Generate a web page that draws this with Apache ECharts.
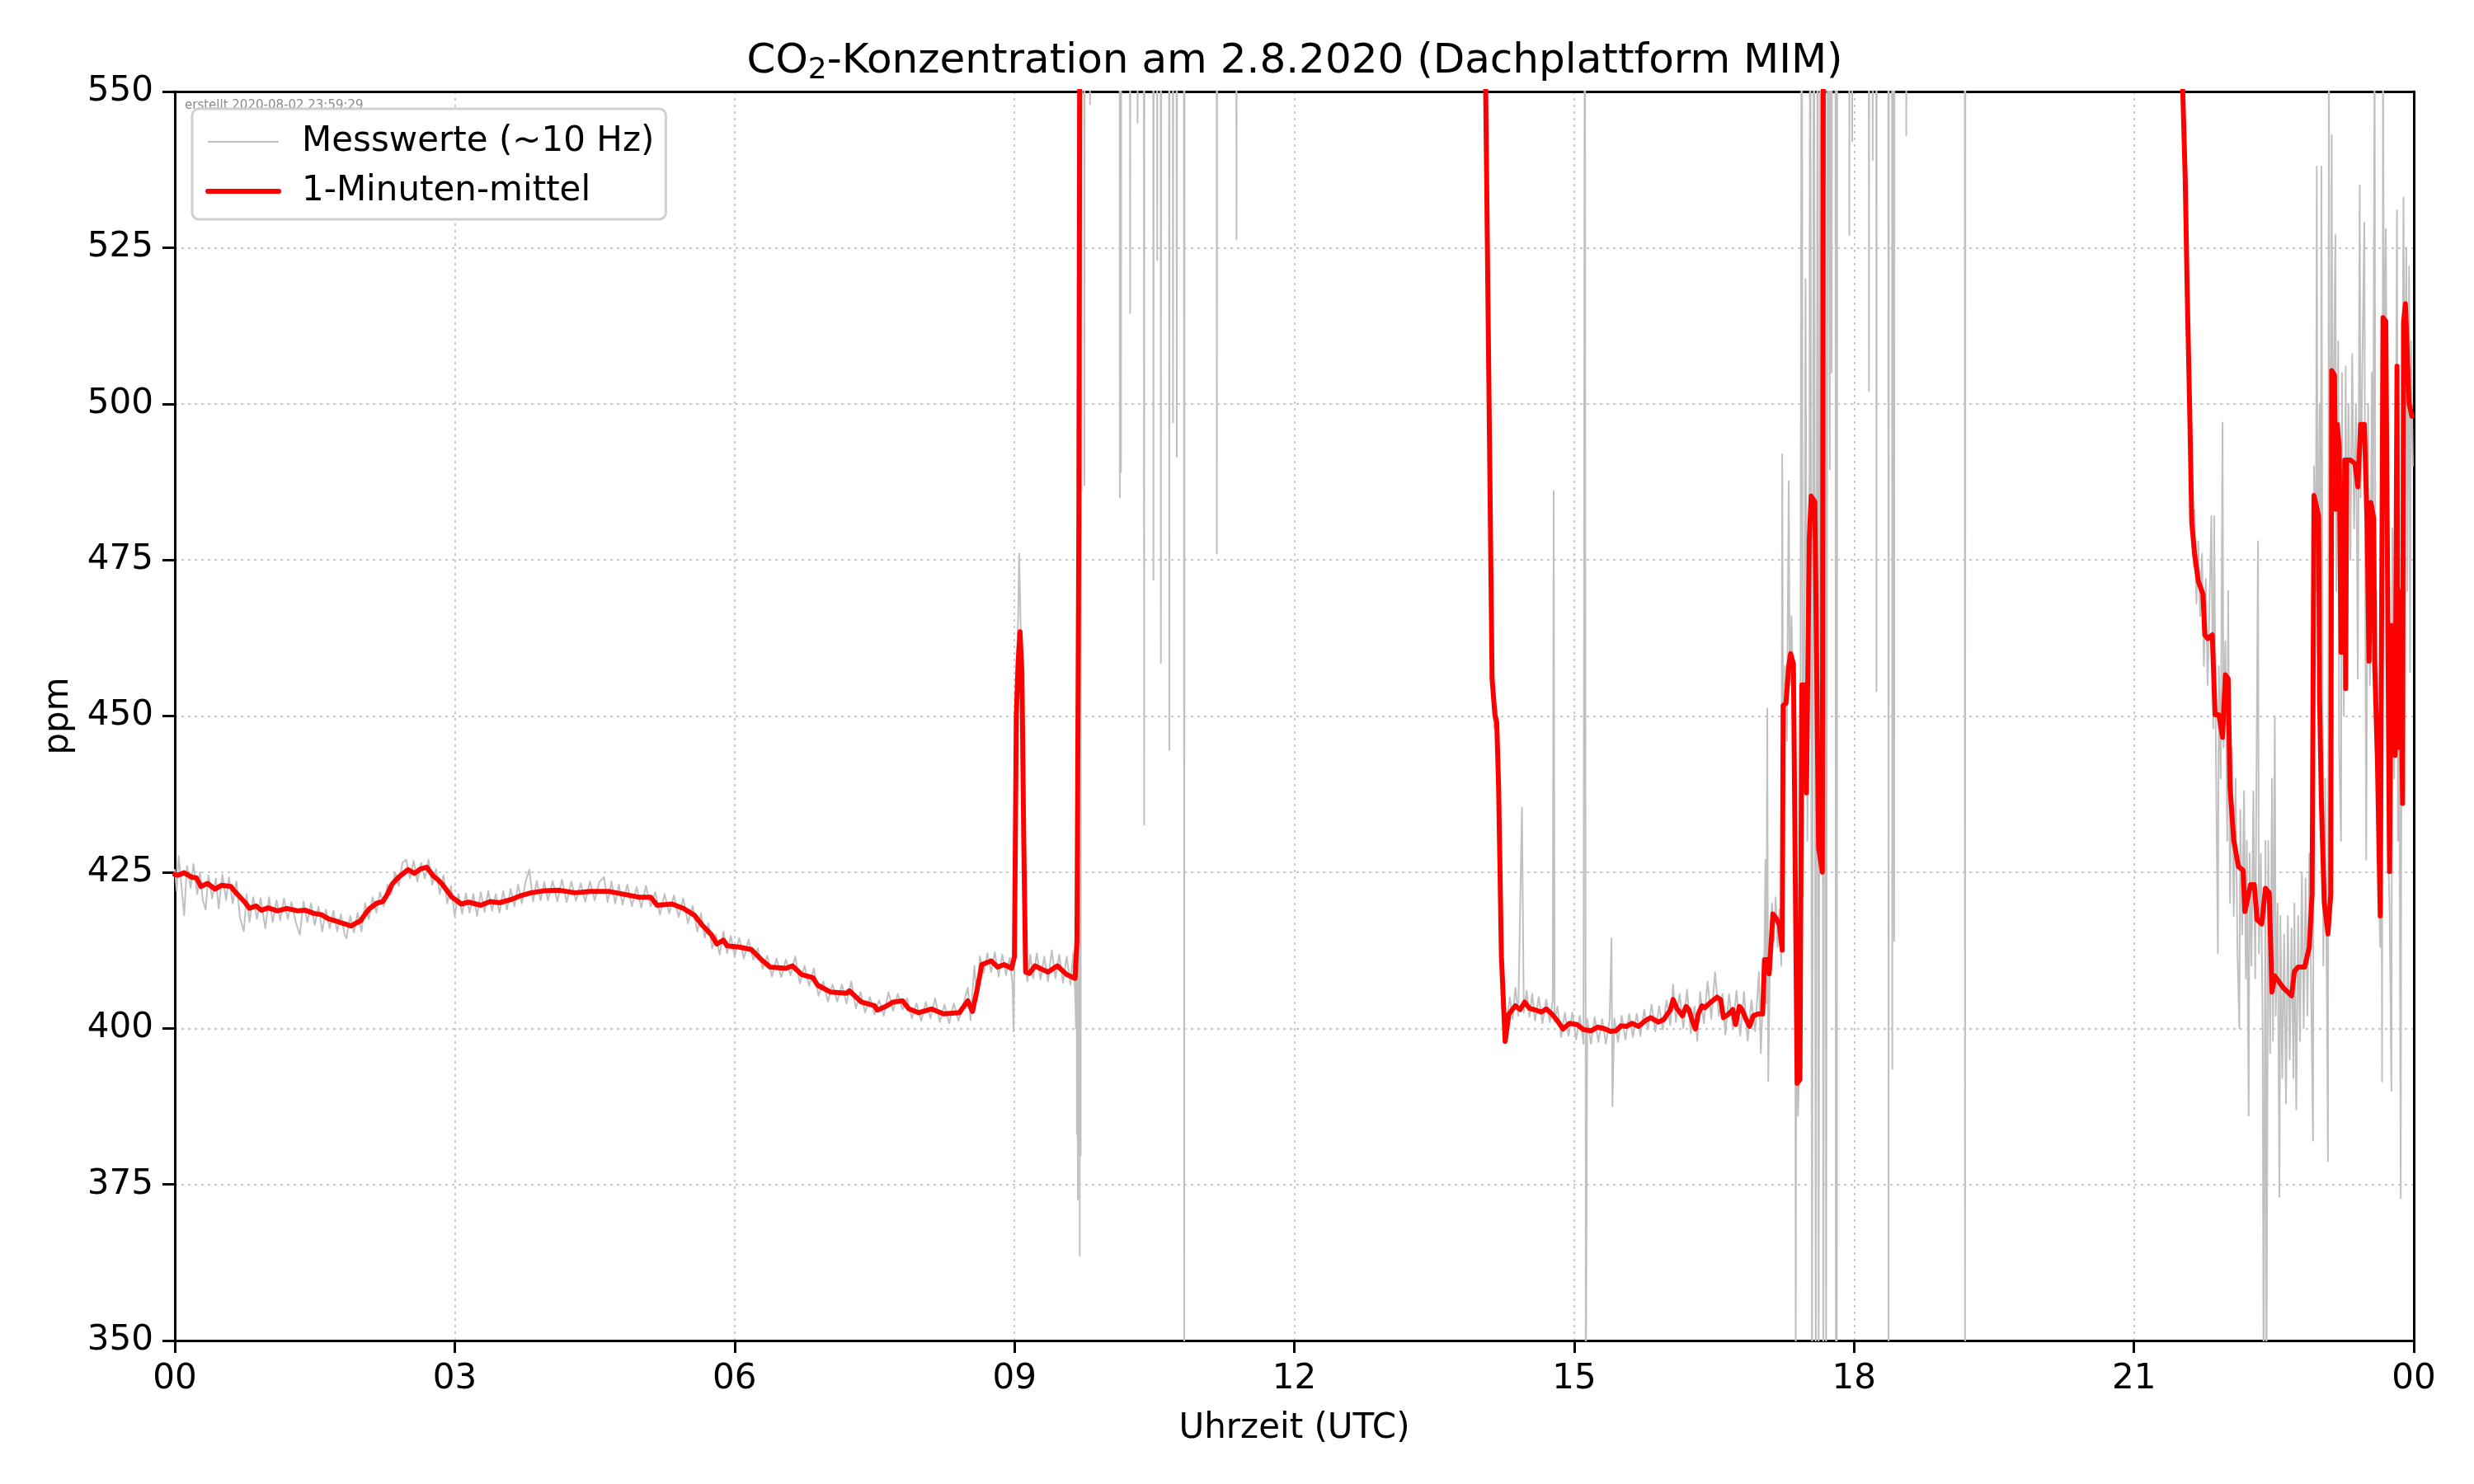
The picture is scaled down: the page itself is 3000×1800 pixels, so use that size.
<!DOCTYPE html>
<html>
<head>
<meta charset="utf-8">
<script src="https://cdn.jsdelivr.net/npm/echarts@6/dist/echarts.min.js"></script>
<style>html,body{margin:0;padding:0;background:#fff}#c{width:3000px;height:1800px}</style>
</head>
<body>
<div id="c"></div>
<script>
// ---- data (hour of day, ppm) ----
const titleMain = 'CO';
const titleSub = '2';
const titleRest = '-Konzentration am 2.8.2020 (Dachplattform MIM)';
const seriesNames = ['Messwerte (~10 Hz)', '1-Minuten-mittel'];
const stampText = 'erstellt 2020-08-02 23:59:29';
const xTickLabels = ['00','03','06','09','12','15','18','21','00'];

// 1-minute means (red)
const meanPoints = [
[0.00,424.6],[0.03,424.5],[0.10,424.9],[0.18,424.2],[0.23,424.1],[0.28,422.7],[0.35,423.2],[0.43,422.3],[0.50,422.9],[0.60,422.7],
[0.65,421.8],[0.70,421.0],[0.75,420.2],[0.80,419.2],[0.87,419.6],[0.93,418.9],[1.00,419.3],[1.10,418.8],[1.20,419.2],[1.32,418.8],
[1.40,418.9],[1.49,418.4],[1.57,418.2],[1.65,417.5],[1.72,417.2],[1.80,416.8],[1.89,416.4],[1.95,416.9],[1.99,417.2],[2.05,418.5],
[2.09,419.2],[2.16,420.0],[2.23,420.3],[2.28,421.5],[2.33,423.1],[2.40,424.2],[2.50,425.4],[2.57,424.8],[2.63,425.5],[2.70,425.8],
[2.77,424.4],[2.82,423.8],[2.87,423.0],[2.92,422.0],[2.97,421.0],[3.07,419.9],[3.15,420.2],[3.28,419.7],[3.38,420.3],[3.48,420.1],
[3.60,420.6],[3.70,421.2],[3.82,421.7],[3.95,422.0],[4.12,422.1],[4.29,421.7],[4.45,421.9],[4.66,421.9],[4.80,421.5],[4.97,421.0],
[5.10,421.0],[5.17,419.7],[5.33,419.9],[5.45,419.2],[5.57,418.1],[5.66,416.4],[5.75,415.0],[5.81,413.5],[5.88,414.1],[5.92,413.2],
[6.05,413.0],[6.18,412.6],[6.28,411.1],[6.38,409.8],[6.55,409.6],[6.62,410.0],[6.72,408.6],[6.84,408.1],[6.89,406.9],[7.03,405.8],
[7.20,405.6],[7.23,406.0],[7.36,404.2],[7.50,403.6],[7.53,402.9],[7.62,403.5],[7.70,404.2],[7.80,404.4],[7.87,403.1],[7.97,402.5],
[8.11,403.1],[8.24,402.3],[8.41,402.5],[8.50,404.4],[8.55,402.7],[8.60,406.2],[8.65,410.2],[8.75,410.8],[8.82,409.8],[8.89,410.2],
[8.97,409.6],[9.00,411.5],[9.02,450.0],[9.04,458.8],[9.06,463.5],[9.08,457.0],[9.10,430.0],[9.12,409.0],[9.16,408.8],[9.22,410.0],
[9.30,409.4],[9.36,409.0],[9.46,410.0],[9.56,408.6],[9.65,408.0],[9.67,414.0],[9.69,480.0],[9.70,560.0],[9.80,650.0],[12.00,700.0],
[14.00,620.0],[14.05,552.0],[14.12,456.0],[14.15,450.2],[14.17,449.0],[14.19,438.6],[14.22,411.5],[14.26,397.9],[14.30,402.3],[14.37,403.6],
[14.42,403.0],[14.47,404.2],[14.52,403.2],[14.57,403.0],[14.65,402.6],[14.70,403.1],[14.76,402.3],[14.82,401.2],[14.88,399.9],[14.95,400.8],
[15.03,400.6],[15.10,399.8],[15.18,399.6],[15.25,400.2],[15.33,399.9],[15.39,399.5],[15.45,399.6],[15.50,400.4],[15.56,400.3],[15.62,400.8],
[15.69,400.3],[15.76,401.2],[15.82,401.7],[15.90,401.0],[15.96,401.4],[16.00,402.3],[16.03,402.9],[16.06,404.6],[16.10,403.2],[16.16,402.0],
[16.20,403.5],[16.23,403.0],[16.27,401.0],[16.30,399.9],[16.33,402.3],[16.37,403.6],[16.40,403.3],[16.45,404.0],[16.50,404.6],[16.53,405.0],
[16.57,404.6],[16.60,401.7],[16.65,402.2],[16.70,403.0],[16.73,400.6],[16.77,403.5],[16.80,403.0],[16.84,401.5],[16.88,400.3],[16.92,402.0],
[16.97,402.3],[17.02,402.3],[17.04,411.0],[17.07,411.0],[17.09,408.7],[17.13,418.3],[17.17,417.5],[17.20,416.5],[17.23,412.5],[17.24,451.7],
[17.27,452.0],[17.30,458.0],[17.32,460.0],[17.35,458.3],[17.39,391.2],[17.42,391.8],[17.44,455.0],[17.47,455.0],[17.49,437.7],[17.52,478.3],
[17.54,485.2],[17.58,484.3],[17.62,428.9],[17.66,425.0],[17.67,560.0],[17.70,650.0],[19.50,700.0],[21.45,620.0],[21.52,552.0],[21.55,536.0],
[21.57,518.8],[21.60,497.4],[21.62,481.0],[21.65,476.0],[21.69,471.6],[21.74,469.5],[21.76,463.0],[21.79,462.4],[21.84,463.0],[21.87,450.2],
[21.91,450.2],[21.95,446.6],[21.98,456.6],[22.01,456.0],[22.03,438.7],[22.07,430.1],[22.12,425.9],[22.17,425.3],[22.19,418.7],[22.25,423.0],
[22.29,423.0],[22.32,417.4],[22.37,416.7],[22.41,422.4],[22.45,421.7],[22.48,405.8],[22.51,408.4],[22.60,406.5],[22.69,405.2],[22.72,409.1],
[22.76,409.8],[22.83,409.8],[22.88,413.0],[22.91,421.5],[22.93,485.3],[22.98,482.0],[22.99,453.0],[23.01,435.9],[23.04,420.1],[23.08,415.1],
[23.11,421.5],[23.12,505.3],[23.15,504.6],[23.16,483.1],[23.18,496.7],[23.20,493.1],[23.22,460.2],[23.24,460.2],[23.26,491.0],[23.27,454.4],
[23.28,491.0],[23.32,491.0],[23.37,490.4],[23.40,486.7],[23.43,496.7],[23.47,496.7],[23.50,480.2],[23.52,458.8],[23.54,484.2],[23.57,481.6],
[23.58,458.8],[23.61,443.0],[23.64,418.0],[23.67,513.8],[23.70,513.2],[23.74,425.1],[23.76,464.5],[23.78,453.9],[23.80,443.7],[23.82,506.0],
[23.83,445.0],[23.85,470.0],[23.88,436.0],[23.89,513.0],[23.91,516.0],[23.95,500.0],[23.98,498.0]
];

const rawPoints = [
[0.00,425.5],[0.02,422.0],[0.04,427.6],[0.07,423.0],[0.10,418.1],[0.13,426.0],[0.17,422.5],[0.20,426.3],[0.24,421.5],[0.27,425.0],
[0.30,420.5],[0.33,419.0],[0.36,424.5],[0.40,420.8],[0.44,424.0],[0.47,419.2],[0.51,424.6],[0.55,420.5],[0.58,424.2],[0.62,420.0],
[0.66,423.5],[0.70,417.6],[0.74,415.5],[0.77,421.5],[0.80,417.0],[0.84,421.0],[0.88,417.5],[0.92,420.8],[0.97,416.0],[1.01,421.0],
[1.05,417.0],[1.09,420.5],[1.13,417.3],[1.17,420.8],[1.21,417.5],[1.25,420.2],[1.30,416.8],[1.34,415.0],[1.38,420.3],[1.42,417.0],
[1.46,420.0],[1.50,416.5],[1.54,419.5],[1.58,415.5],[1.62,419.0],[1.66,416.0],[1.70,418.8],[1.74,415.5],[1.78,418.3],[1.82,415.0],
[1.84,414.4],[1.88,418.0],[1.92,415.3],[1.96,418.5],[2.00,415.5],[2.04,420.0],[2.08,417.5],[2.12,421.0],[2.16,418.5],[2.20,421.8],
[2.24,419.5],[2.28,423.0],[2.32,421.5],[2.36,425.0],[2.40,422.8],[2.44,426.5],[2.48,427.0],[2.52,424.0],[2.56,426.8],[2.60,423.5],
[2.64,426.5],[2.68,424.0],[2.72,427.0],[2.76,423.0],[2.80,425.5],[2.84,421.5],[2.88,424.5],[2.92,420.0],[2.96,422.8],[3.00,418.0],
[3.04,421.5],[3.08,418.3],[3.12,421.6],[3.16,418.5],[3.20,421.5],[3.24,418.0],[3.28,421.8],[3.32,418.6],[3.36,422.0],[3.40,418.8],
[3.44,421.5],[3.48,418.5],[3.52,422.0],[3.56,419.0],[3.60,422.3],[3.64,419.5],[3.68,423.0],[3.72,420.0],[3.76,423.5],[3.80,425.4],
[3.84,420.3],[3.88,423.6],[3.92,420.5],[3.96,423.4],[4.00,420.5],[4.05,423.6],[4.10,420.3],[4.15,423.8],[4.20,420.2],[4.25,423.5],
[4.30,420.4],[4.35,423.2],[4.40,420.3],[4.45,423.5],[4.50,420.5],[4.55,423.4],[4.60,424.2],[4.64,420.2],[4.68,423.5],[4.72,420.0],
[4.76,423.0],[4.80,419.8],[4.85,423.0],[4.90,419.5],[4.95,422.6],[5.00,419.3],[5.05,422.8],[5.10,419.5],[5.15,421.8],[5.20,418.2],
[5.25,421.5],[5.30,418.4],[5.35,421.3],[5.40,417.8],[5.45,420.8],[5.50,416.8],[5.55,419.6],[5.60,415.5],[5.64,418.4],[5.68,414.5],
[5.72,416.8],[5.76,412.8],[5.80,415.0],[5.84,411.8],[5.88,415.5],[5.92,412.0],[5.96,414.8],[6.00,411.5],[6.05,414.5],[6.10,411.2],
[6.15,414.2],[6.20,411.0],[6.25,412.8],[6.30,409.5],[6.35,411.6],[6.40,408.3],[6.45,411.2],[6.50,408.2],[6.55,411.0],[6.60,408.5],
[6.65,411.5],[6.70,407.2],[6.75,410.0],[6.80,406.8],[6.85,409.6],[6.90,405.2],[6.95,407.5],[7.00,404.3],[7.05,407.0],[7.10,404.3],
[7.15,407.0],[7.20,404.0],[7.25,407.5],[7.30,403.2],[7.35,405.8],[7.40,402.5],[7.45,405.0],[7.50,402.2],[7.55,404.5],[7.60,402.0],
[7.65,405.8],[7.70,402.8],[7.75,405.5],[7.80,403.0],[7.85,404.8],[7.90,401.6],[7.95,404.0],[8.00,401.2],[8.05,404.2],[8.10,401.6],
[8.15,404.8],[8.20,401.0],[8.25,403.8],[8.30,400.8],[8.35,404.0],[8.40,401.2],[8.45,403.8],[8.50,406.5],[8.53,401.3],[8.57,410.0],
[8.60,404.5],[8.63,411.5],[8.67,408.8],[8.71,412.0],[8.75,409.0],[8.79,412.2],[8.83,408.3],[8.87,411.8],[8.91,408.5],[8.95,411.3],
[8.98,407.0],[8.99,399.5],[9.00,412.0],[9.02,455.0],[9.04,466.0],[9.05,476.0],[9.07,462.0],[9.09,445.0],[9.11,410.0],[9.14,407.5],
[9.17,411.8],[9.20,408.0],[9.24,412.0],[9.28,407.8],[9.32,411.5],[9.36,407.5],[9.40,412.5],[9.44,408.0],[9.48,411.8],[9.52,407.3],
[9.56,411.5],[9.60,407.0],[9.63,412.0],[9.65,406.0],[9.66,400.0],[9.665,440.0],[9.67,383.0],[9.675,420.0],[9.68,372.6],[9.685,600.0],
[9.69,380.0],[9.695,600.0],[9.70,363.6],[9.705,600.0],[9.71,379.6],[9.715,600.0],[9.72,486.0],[9.725,600.0],[9.746,600.0],[9.75,487.0],
[9.754,600.0],[9.806,600.0],[9.81,548.0],[9.814,600.0],[10.126,600.0],[10.13,485.0],[10.134,600.0],[10.138,600.0],[10.142,489.0],[10.146,600.0],
[10.236,600.0],[10.24,514.5],[10.244,600.0],[10.316,600.0],[10.32,545.0],[10.324,600.0],[10.386,600.0],[10.39,432.6],[10.394,600.0],[10.486,600.0],
[10.49,471.8],[10.494,600.0],[10.526,600.0],[10.53,523.0],[10.534,600.0],[10.566,600.0],[10.57,458.5],[10.574,600.0],[10.656,600.0],[10.66,444.6],
[10.664,600.0],[10.696,600.0],[10.70,497.0],[10.704,600.0],[10.736,600.0],[10.74,491.5],[10.744,600.0],[10.816,600.0],[10.82,340.0],[10.824,600.0],
[11.166,600.0],[11.17,476.0],[11.174,600.0],[11.376,600.0],[11.38,526.3],[11.384,600.0],[14.04,600.0],[14.08,520.0],[14.12,457.0],[14.14,448.0],
[14.17,451.0],[14.19,440.0],[14.22,410.0],[14.25,398.0],[14.28,401.0],[14.31,405.0],[14.34,401.5],[14.37,406.5],[14.40,402.0],[14.44,435.3],
[14.46,402.5],[14.49,406.0],[14.52,401.8],[14.55,405.5],[14.58,401.2],[14.62,405.0],[14.66,400.8],[14.70,404.6],[14.74,401.0],[14.77,404.5],
[14.78,486.0],[14.79,401.0],[14.82,403.5],[14.86,398.6],[14.90,402.5],[14.94,398.8],[14.98,402.5],[15.02,398.2],[15.06,402.0],[15.10,397.5],
[15.115,600.0],[15.125,340.0],[15.14,401.5],[15.18,397.5],[15.22,401.8],[15.26,397.8],[15.30,401.5],[15.34,397.5],[15.38,401.5],[15.40,414.4],
[15.41,387.5],[15.43,401.6],[15.47,397.8],[15.51,402.0],[15.55,398.2],[15.59,402.3],[15.63,398.6],[15.67,402.3],[15.71,398.8],[15.75,403.0],
[15.79,399.8],[15.83,403.8],[15.87,399.5],[15.91,403.5],[15.95,399.8],[15.99,404.5],[16.03,400.5],[16.06,407.0],[16.09,401.0],[16.13,405.5],
[16.17,400.0],[16.21,406.2],[16.25,399.2],[16.29,403.5],[16.32,398.0],[16.35,405.8],[16.39,400.8],[16.43,407.5],[16.47,401.5],[16.51,409.0],
[16.55,402.0],[16.59,405.5],[16.62,399.0],[16.66,405.5],[16.70,400.0],[16.74,406.0],[16.78,398.8],[16.82,405.8],[16.86,398.0],[16.90,404.5],
[16.94,399.5],[16.98,409.0],[17.00,396.0],[17.02,404.0],[17.04,413.0],[17.05,427.0],[17.06,404.0],[17.07,451.2],[17.08,391.6],[17.10,412.0],
[17.12,420.0],[17.14,414.0],[17.16,421.0],[17.18,413.0],[17.20,419.0],[17.22,410.0],[17.23,491.9],[17.24,440.0],[17.26,458.0],[17.28,446.0],
[17.30,487.6],[17.31,455.0],[17.33,466.0],[17.35,450.0],[17.37,420.0],[17.375,340.0],[17.38,398.0],[17.40,386.0],[17.42,400.0],[17.44,600.0],
[17.45,421.0],[17.47,470.0],[17.48,520.0],[17.50,430.0],[17.52,470.0],[17.53,600.0],[17.55,340.0],[17.57,600.0],[17.59,340.0],[17.61,600.0],
[17.62,340.0],[17.64,600.0],[17.65,470.0],[17.66,600.0],[17.67,340.0],[17.69,600.0],[17.70,340.0],[17.72,600.0],[17.74,489.5],[17.745,600.0],
[17.76,505.0],[17.765,600.0],[17.80,600.0],[17.805,340.0],[17.81,600.0],[17.815,340.0],[17.82,600.0],[17.946,600.0],[17.95,527.0],[17.954,600.0],
[17.976,600.0],[17.98,542.0],[17.984,600.0],[18.156,600.0],[18.16,502.0],[18.164,600.0],[18.196,600.0],[18.20,539.0],[18.204,600.0],[18.236,600.0],
[18.24,454.0],[18.244,600.0],[18.366,600.0],[18.37,340.0],[18.374,600.0],[18.406,600.0],[18.41,393.5],[18.414,600.0],[18.426,600.0],[18.43,414.0],
[18.434,600.0],[18.556,600.0],[18.56,543.0],[18.564,600.0],[19.186,600.0],[19.19,340.0],[19.194,600.0],[21.45,600.0],[21.52,560.0],[21.55,540.0],
[21.57,520.0],[21.60,499.0],[21.62,484.0],[21.64,474.0],[21.65,483.0],[21.67,468.0],[21.69,478.0],[21.71,466.0],[21.73,476.0],[21.75,458.0],
[21.77,472.0],[21.79,455.0],[21.81,468.0],[21.83,482.0],[21.85,448.0],[21.86,482.0],[21.88,442.0],[21.90,412.0],[21.91,458.0],[21.93,440.0],
[21.95,497.0],[21.96,445.0],[21.98,462.0],[22.00,430.0],[22.01,470.0],[22.03,420.0],[22.05,445.0],[22.07,418.0],[22.09,440.0],[22.11,412.0],
[22.13,400.0],[22.14,435.0],[22.16,415.0],[22.18,438.0],[22.20,408.0],[22.21,430.0],[22.23,386.0],[22.24,428.0],[22.26,410.0],[22.28,438.0],
[22.30,408.0],[22.31,432.0],[22.33,478.0],[22.34,412.0],[22.36,428.0],[22.38,400.0],[22.39,340.0],[22.41,430.0],[22.42,340.0],[22.44,430.0],
[22.46,396.0],[22.48,440.0],[22.49,398.0],[22.51,450.0],[22.52,402.0],[22.54,420.0],[22.56,373.0],[22.57,418.0],[22.59,392.0],[22.61,415.0],
[22.63,388.0],[22.65,418.0],[22.67,395.0],[22.69,416.0],[22.71,392.0],[22.72,420.0],[22.74,387.0],[22.76,418.0],[22.78,398.0],[22.80,425.0],
[22.82,400.0],[22.84,424.0],[22.86,402.0],[22.88,428.0],[22.90,406.0],[22.92,382.0],[22.93,490.0],[22.95,470.0],[22.96,538.0],[22.97,460.0],
[22.99,500.0],[23.00,430.0],[23.01,538.0],[23.03,410.0],[23.05,440.0],[23.07,402.0],[23.08,378.7],[23.09,560.0],[23.10,425.0],[23.12,543.0],
[23.13,480.0],[23.15,515.0],[23.16,527.0],[23.17,470.0],[23.19,510.0],[23.20,445.0],[23.22,430.0],[23.23,505.0],[23.25,450.0],[23.27,506.0],
[23.28,470.0],[23.30,500.0],[23.32,475.0],[23.34,508.0],[23.36,480.0],[23.38,500.0],[23.40,456.0],[23.42,535.0],[23.43,485.0],[23.45,508.0],
[23.47,529.0],[23.48,470.0],[23.49,427.0],[23.51,500.0],[23.53,455.0],[23.55,505.0],[23.56,462.0],[23.58,560.0],[23.59,445.0],[23.60,470.0],
[23.62,425.0],[23.64,413.0],[23.65,480.0],[23.66,391.5],[23.67,560.0],[23.68,505.0],[23.70,528.0],[23.71,500.0],[23.72,430.0],[23.74,420.0],
[23.76,390.0],[23.77,480.0],[23.79,440.0],[23.81,500.0],[23.82,531.0],[23.83,430.0],[23.84,470.0],[23.86,372.8],[23.87,480.0],[23.89,533.0],
[23.90,495.0],[23.92,525.0],[23.93,470.0],[23.95,522.0],[23.96,457.0],[23.97,510.0],[23.99,490.0]
];

// ---- chart ----
const F = 'DejaVu Sans';
const chart = echarts.init(document.getElementById('c'), null, {renderer: 'canvas'});
const gridLine = {show: true, showMinLine: false, showMaxLine: false, lineStyle: {type: [3, 5], color: '#c8c8c8', width: 2}};
chart.setOption({
  animation: false,
  backgroundColor: '#ffffff',
  textStyle: {fontFamily: F},
  grid: {left: 212, right: 73, top: 111, bottom: 174, show: false},
  xAxis: [{
    type: 'value', min: 0, max: 24, interval: 3,
    name: 'Uhrzeit (UTC)', nameLocation: 'middle', nameGap: 86,
    nameTextStyle: {fontFamily: F, fontSize: 42, color: '#000'},
    axisLine: {show: true, lineStyle: {color: '#000', width: 3}},
    axisTick: {show: true, inside: false, length: 15, lineStyle: {color: '#000', width: 3}},
    axisLabel: {fontFamily: F, fontSize: 42, color: '#000', margin: 26,
      formatter: v => xTickLabels[Math.round(v / 3)]},
    splitLine: gridLine
  }, {
    type: 'value', min: 0, max: 24, position: 'top',
    axisLine: {show: true, onZero: false, lineStyle: {color: '#000', width: 3}},
    axisTick: {show: false}, axisLabel: {show: false}, splitLine: {show: false}
  }],
  yAxis: [{
    type: 'value', min: 350, max: 550, interval: 25,
    name: 'ppm', nameLocation: 'middle', nameGap: 120, nameRotate: 90,
    nameTextStyle: {fontFamily: F, fontSize: 42, color: '#000'},
    axisLine: {show: true, lineStyle: {color: '#000', width: 3}},
    axisTick: {show: true, inside: false, length: 15, lineStyle: {color: '#000', width: 3}},
    axisLabel: {fontFamily: F, fontSize: 42, color: '#000', margin: 26},
    splitLine: gridLine
  }, {
    type: 'value', min: 350, max: 550, position: 'right',
    axisLine: {show: true, onZero: false, lineStyle: {color: '#000', width: 3}},
    axisTick: {show: false}, axisLabel: {show: false}, splitLine: {show: false}
  }],
  legend: {
    orient: 'vertical', left: 233, top: 132, z: 5,
    padding: [19, 14, 13, 16], itemGap: 18, itemWidth: 86, itemHeight: 42,
    backgroundColor: 'rgba(255,255,255,0.85)', borderColor: '#d0d0d0', borderWidth: 3, borderRadius: 8,
    itemStyle: {opacity: 0},
    textStyle: {fontFamily: F, fontSize: 42, color: '#000', lineHeight: 42, padding: [0, 0, 0, 23]},
    data: [
      {name: seriesNames[0], lineStyle: {width: 2, color: '#c0c0c0'}},
      {name: seriesNames[1], lineStyle: {width: 6, color: '#ff0000'}}
    ]
  },
  graphic: [
    {type: 'text', x: 1570, y: 75, z: 10, style: {
      text: '{a|' + titleMain + '}{s|' + titleSub + '}{a|' + titleRest + '}',
      textAlign: 'center', textVerticalAlign: 'middle',
      rich: {
        a: {fontFamily: F, fontSize: 50, fill: '#000'},
        s: {fontFamily: F, fontSize: 36, fill: '#000', padding: [22, 0, 0, 0]}
      }
    }},
    {type: 'text', x: 224, y: 128, z: 1, style: {text: stampText, fontFamily: F, fontSize: 15, fill: '#8a8a8a', textVerticalAlign: 'middle'}}
  ],
  series: [
    {name: seriesNames[0], type: 'line', data: rawPoints, showSymbol: false, symbol: 'none', clip: true, z: 2,
     lineStyle: {color: '#c0c0c0', width: 2, join: 'round'}, itemStyle: {color: '#c0c0c0'}},
    {name: seriesNames[1], type: 'line', data: meanPoints, showSymbol: false, symbol: 'none', clip: true, z: 3,
     lineStyle: {color: '#ff0000', width: 6, join: 'round', cap: 'round'}, itemStyle: {color: '#ff0000'}}
  ]
});
</script>
</body>
</html>
